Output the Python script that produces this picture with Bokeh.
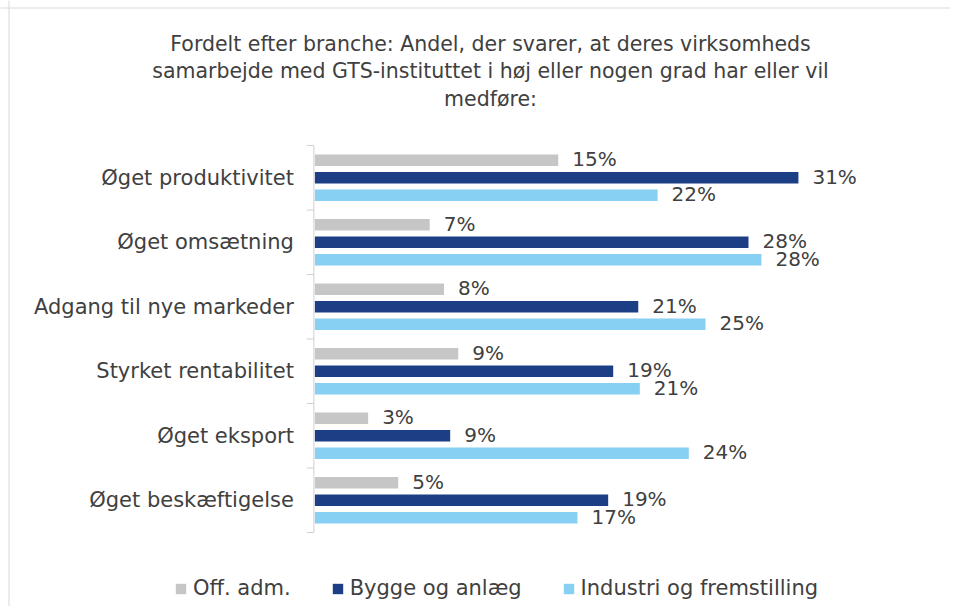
import numpy as np
from bokeh.plotting import figure
from bokeh.models import Range1d, Legend, LegendItem, ColumnDataSource, Span
from bokeh.core.properties import value
from bokeh.embed import file_html
from bokeh.resources import INLINE

# ---- data ----
categories = ["Øget produktivitet", "Øget omsætning", "Adgang til nye markeder",
              "Styrket rentabilitet", "Øget eksport", "Øget beskæftigelse"]
series_names = ["Off. adm.", "Bygge og anlæg", "Industri og fremstilling"]
off_adm = [15.45, 7.29, 8.2, 9.1, 3.38, 5.29]
bygge = [30.7, 27.53, 20.53, 18.94, 8.59, 18.62]
industri = [21.76, 28.35, 24.8, 20.63, 23.74, 16.67]
colors = ["#c6c6c6", "#1b3e84", "#87cff3"]
title_lines = ["Fordelt efter branche: Andel, der svarer, at deres virksomheds",
               "samarbejde med GTS-instituttet i høj eller nogen grad har eller vil",
               "medføre:"]

FONT = "DejaVu Sans"
TXT = "#404040"
AXC = "#d0d0d0"

# ---- layout (canvas pixels) ----
W, H = 950, 606
X0_PX = 314.4          # canvas x of value 0
PX_X = 15.75           # pixels per percent
Y_TOP_PX = 145.0       # canvas y of top category boundary
PX_Y = 64.5            # pixels per category

n = len(categories)
x_start = -X0_PX / PX_X
x_end = (W - X0_PX) / PX_X
y_top_val = n + 0.5 + Y_TOP_PX / PX_Y
y_bot_val = y_top_val - H / PX_Y

def px2x(px):
    return x_start + px / PX_X

def px2y(py):
    return y_top_val - py / PX_Y

p = figure(width=W, height=H, output_backend="svg", toolbar_location=None,
           x_range=Range1d(x_start, x_end), y_range=Range1d(y_bot_val, y_top_val),
           x_axis_location=None, y_axis_location=None,
           min_border=0, min_border_left=0, min_border_right=0,
           min_border_top=0, min_border_bottom=0)
p.title.visible = False
p.outline_line_color = None
p.xgrid.visible = False
p.ygrid.visible = False
p.background_fill_color = "white"
p.border_fill_color = "white"

# outer border (left and top)
p.add_layout(Span(location=px2x(8.5), dimension="height", line_color="#d9d9d9", line_width=1))
p.add_layout(Span(location=px2y(7.5), dimension="width", line_color="#d9d9d9", line_width=1))

centers = np.arange(n, 0, -1).astype(float)
bounds = np.arange(0.5, n + 1, 1.0)

# category axis line and boundary ticks
p.segment(x0=[-1 / PX_X], x1=[-1 / PX_X], y0=[bounds[0]], y1=[bounds[-1]],
          line_color=AXC, line_width=1)
p.segment(x0=[-8 / PX_X] * len(bounds), x1=[-1 / PX_X] * len(bounds),
          y0=bounds, y1=bounds, line_color=AXC, line_width=1)
p.text(x=[0] * n, y=centers, text=categories, x_offset=-21,
       text_font=value(FONT), text_font_size="21px", text_color=TXT,
       text_align="right", text_baseline="middle")

bar_h = 11.7 / PX_Y
off = 17.5 / PX_Y
offsets = [off, 0.0, -off]
series = [off_adm, bygge, industri]
items = []
for k, (vals, col, name) in enumerate(zip(series, colors, series_names)):
    ys = centers + offsets[k]
    src = ColumnDataSource(dict(y=ys, right=vals,
                                lab=["%d%%" % round(v) for v in vals]))
    r = p.hbar(y="y", right="right", left=0, height=bar_h, source=src,
               fill_color=col, line_color=None)
    p.text(x="right", y="y", text="lab", source=src, x_offset=14, y_offset=-1,
           text_font=value(FONT), text_font_size="20px", text_color=TXT,
           text_align="left", text_baseline="middle")
    items.append(LegendItem(label=name, renderers=[r]))

legend = Legend(items=items, orientation="horizontal", location=(174, 6),
                glyph_width=13, glyph_height=13, label_standoff=6, spacing=40,
                padding=0, margin=0, border_line_color=None,
                background_fill_alpha=0, label_text_font=FONT,
                label_text_font_size="21px", label_text_color=TXT)
p.add_layout(legend)

# chart title (three centred lines)
title_y = [px2y(py) for py in (43.0, 70.5, 98.0)]
p.text(x=[px2x(490.0)] * len(title_lines), y=title_y, text=title_lines,
       text_font=value(FONT), text_font_size="20.5px", text_color=TXT,
       text_align="center", text_baseline="middle")

open("out.html", "w").write(file_html(p, INLINE))
